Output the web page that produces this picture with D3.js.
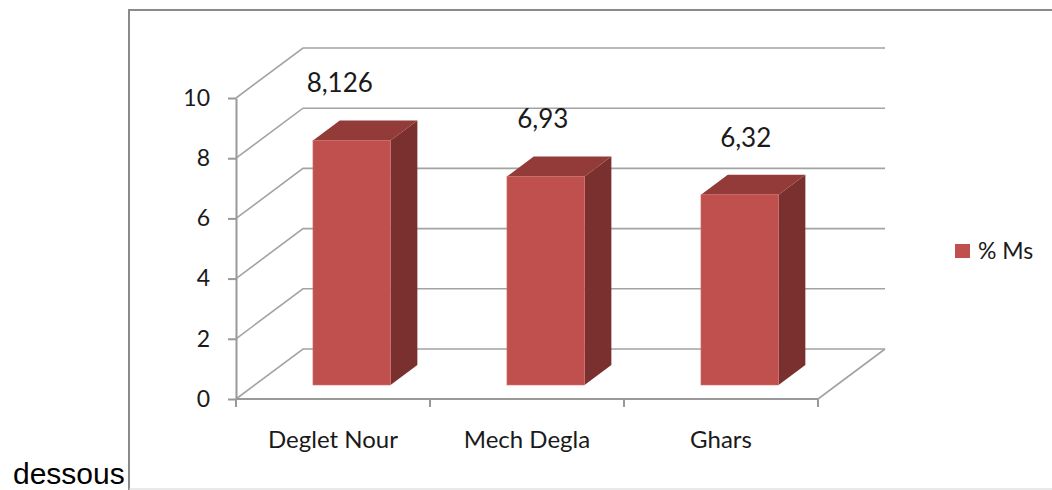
<!DOCTYPE html>
<html>
<head>
<meta charset="utf-8">
<script src="https://cdn.jsdelivr.net/npm/d3@7"></script>
<style>
  body { margin: 0; background: #fff; }
  svg { display: block; }
  text { font-family: Lato, "Open Sans", sans-serif; fill: #1a1a1a; }
</style>
</head>
<body>
<script>
// Dry matter share per date variety
const categories = ["Deglet Nour", "Mech Degla", "Ghars"];
const values = [8.126, 6.93, 6.32];
const valueLabels = ["8,126", "6,93", "6,32"];
const yTicks = [0, 2, 4, 6, 8, 10];
const seriesName = "% Ms";

const W = 1052, H = 490;
const svg = d3.select("body").append("svg").attr("width", W).attr("height", H);

// Outer frame of the chart object
svg.append("line").attr("x1", 129).attr("y1", 10).attr("x2", 129).attr("y2", H)
  .attr("stroke", "#8a8a8a").attr("stroke-width", 2);
svg.append("line").attr("x1", 128).attr("y1", 10).attr("x2", W).attr("y2", 10)
  .attr("stroke", "#8a8a8a").attr("stroke-width", 2);
svg.append("line").attr("x1", 129).attr("y1", 489).attr("x2", W).attr("y2", 489)
  .attr("stroke", "#d4d4d4").attr("stroke-width", 1);

// Caption text to the left of the frame
svg.append("text").attr("x", 13).attr("y", 484)
  .style("font-family", "'Liberation Sans', Arial, sans-serif")
  .style("font-size", "30px").style("fill", "#000")
  .text("dessous");

// Plot geometry: front plane plus an oblique depth offset
const x0 = 236, x1 = 818, yBase = 399, yTop = 98;
const DX = 67, DY = -50;
const proj = (px, py, f) => [px + f * DX, py + f * DY];

const x = d3.scaleBand().domain(categories).range([x0, x1]);
const y = d3.scaleLinear().domain([0, 10]).range([yBase, yTop]);

const gridColor = "#a3a3a3";
const grid = svg.append("g").attr("stroke", gridColor).attr("stroke-width", 1.6).attr("fill", "none");

// Side wall diagonals and back wall gridlines
yTicks.forEach(t => {
  const a = proj(x0, y(t), 0), b = proj(x0, y(t), 1), c = proj(x1, y(t), 1);
  grid.append("path").attr("d", d3.line()([a, b, c]));
});
// Floor right edge
grid.append("path").attr("d", d3.line()([proj(x1, yBase, 0), proj(x1, yBase, 1)]));

// 3D bars
const barW = x.bandwidth() * 0.4;
const f1 = 0.28, f2 = 0.68;
const bars = svg.append("g");
categories.forEach((c, i) => {
  const cx = x(c) + x.bandwidth() / 2;
  const l = cx - barW / 2, r = cx + barW / 2;
  const top = y(values[i]), bot = y(0);
  const poly = pts => "M" + pts.map(p => p.join(",")).join("L") + "Z";
  // side face
  bars.append("path").attr("fill", "#7a302e")
    .attr("d", poly([proj(r, top, f1), proj(r, top, f2), proj(r, bot, f2), proj(r, bot, f1)]));
  // top face
  bars.append("path").attr("fill", "#923b39")
    .attr("d", poly([proj(l, top, f1), proj(r, top, f1), proj(r, top, f2), proj(l, top, f2)]));
  // front face
  const fl = proj(l, top, f1), fr = proj(r, bot, f1);
  bars.append("rect").attr("x", fl[0]).attr("y", fl[1])
    .attr("width", fr[0] - fl[0]).attr("height", fr[1] - fl[1])
    .attr("fill", "#c0504d").attr("stroke", "#cf6f6c").attr("stroke-width", 0.6);

  // value label above the bar
  const shift = -12 + (cx - x(categories[0]) - x.bandwidth() / 2) * 0.0463;
  const backTop = proj(cx, top, f2);
  svg.append("text")
    .attr("x", cx + f1 * DX + shift)
    .attr("y", backTop[1] - 28)
    .attr("text-anchor", "middle")
    .style("font-size", "26px")
    .text(valueLabels[i]);
});

// Value axis
const yAxis = d3.axisLeft(y).tickValues(yTicks).tickSize(8).tickSizeOuter(0).tickPadding(18);
const ya = svg.append("g").attr("transform", `translate(${x0},0)`).call(yAxis);
ya.select(".domain").attr("stroke", "#999").attr("stroke-width", 2);
ya.selectAll(".tick line").attr("stroke", "#999").attr("stroke-width", 2);
ya.selectAll(".tick text").style("font-size", "23px").style("font-family", "Lato, sans-serif").attr("fill", "#1a1a1a");

// Category axis (front floor edge) with ticks between categories
const cat = svg.append("g");
cat.append("line").attr("x1", x0).attr("x2", x1).attr("y1", yBase).attr("y2", yBase)
  .attr("stroke", "#999").attr("stroke-width", 2);
const bounds = categories.map(c => x(c)).concat([x1]);
bounds.forEach(b => {
  cat.append("line").attr("x1", b).attr("x2", b).attr("y1", yBase).attr("y2", yBase + 8)
    .attr("stroke", "#999").attr("stroke-width", 2);
});
categories.forEach(c => {
  cat.append("text").attr("x", x(c) + x.bandwidth() / 2).attr("y", 448)
    .attr("text-anchor", "middle").style("font-size", "24px").text(c);
});

// Legend
const lg = svg.append("g").attr("transform", "translate(955,244)");
lg.append("rect").attr("width", 15).attr("height", 14).attr("fill", "#c0504d");
lg.append("text").attr("x", 23).attr("y", 15).style("font-size", "23px").text(seriesName);
</script>
</body>
</html>
